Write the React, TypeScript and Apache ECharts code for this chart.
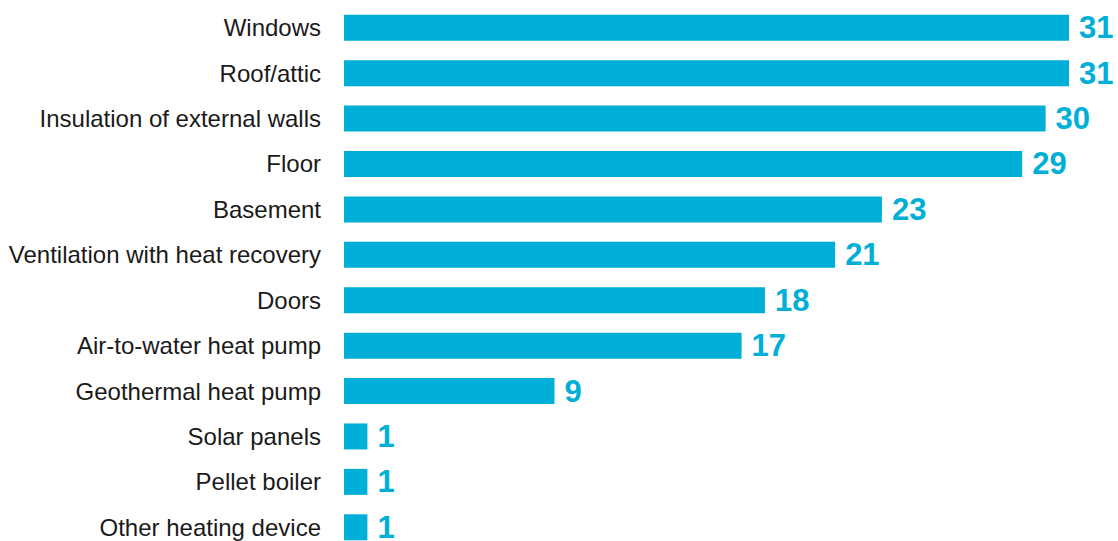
import React, { useEffect, useRef } from "react";
import * as echarts from "echarts";

const categories = [
  "Windows",
  "Roof/attic",
  "Insulation of external walls",
  "Floor",
  "Basement",
  "Ventilation with heat recovery",
  "Doors",
  "Air-to-water heat pump",
  "Geothermal heat pump",
  "Solar panels",
  "Pellet boiler",
  "Other heating device",
];
const values = [31, 31, 30, 29, 23, 21, 18, 17, 9, 1, 1, 1];

const BAR_COLOR = "#00AFD8";

export default function App() {
  const ref = useRef<HTMLDivElement>(null);
  useEffect(() => {
    const chart = echarts.init(ref.current!, null, { renderer: "svg" });
    chart.setOption({
      animation: false,
      grid: { left: 344, right: 49, top: 5, height: 545, containLabel: false },
      xAxis: {
        type: "value",
        min: 0,
        max: 31,
        show: false,
      },
      yAxis: {
        type: "category",
        data: categories,
        inverse: true,
        axisLine: { show: false },
        axisTick: { show: false },
        axisLabel: {
          margin: 23,
          fontSize: 24,
          color: "#1a1a1a",
          fontFamily: "Liberation Sans, Arial, sans-serif",
        },
      },
      series: [
        {
          type: "bar",
          data: values,
          barWidth: 26,
          itemStyle: { color: BAR_COLOR },
          label: {
            show: true,
            position: "right",
            distance: 10,
            fontSize: 31,
            fontWeight: "bold",
            color: BAR_COLOR,
            fontFamily: "Liberation Sans, Arial, sans-serif",
          },
        },
      ],
    });
    return () => chart.dispose();
  }, []);
  return (
    <div style={{ position: "fixed", left: 0, top: 0, width: 1118, height: 541, overflow: "hidden", background: "#fff" }}>
      <div ref={ref} style={{ width: 1118, height: 560 }} />
    </div>
  );
}
